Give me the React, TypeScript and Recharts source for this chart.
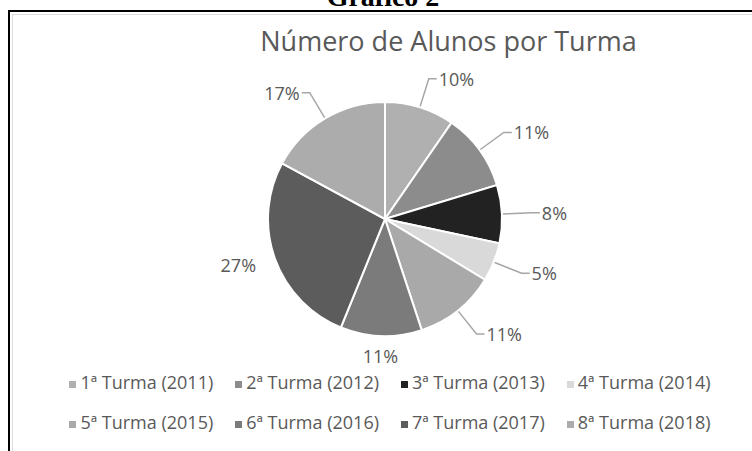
import React from 'react';
import { PieChart, Pie, Cell, Legend } from 'recharts';

// número de alunos estimado a partir das fatias
const turmas = [
  '1ª Turma (2011)',
  '2ª Turma (2012)',
  '3ª Turma (2013)',
  '4ª Turma (2014)',
  '5ª Turma (2015)',
  '6ª Turma (2016)',
  '7ª Turma (2017)',
  '8ª Turma (2018)',
];
const alunos = [18, 20, 15, 10, 21, 21, 50, 32];
const cores = ['#b0b0b0', '#8c8c8c', '#222222', '#d9d9d9', '#a9a9a9', '#7b7b7b', '#5c5c5c', '#acacac'];

const data = turmas.map((turma, i) => ({ turma, alunos: alunos[i], fill: cores[i] }));

const FONT = '"Open Sans", sans-serif';
const RAD = Math.PI / 180;

const renderLabel = (props: any) => {
  const { cx, cy, midAngle, outerRadius, percent } = props;
  const cos = Math.cos(-midAngle * RAD);
  const sin = Math.sin(-midAngle * RAD);
  const txt = `${Math.round(percent * 100)}%`;
  const withLine = percent < 0.2 && Math.abs(cos) > 0.2;

  if (!withLine) {
    const d = outerRadius + 20;
    const x = cx + d * cos;
    const y = cy + d * sin;
    const anchor = Math.abs(cos) < 0.2 ? 'middle' : cos > 0 ? 'start' : 'end';
    return (
      <text x={x} y={y} fill="#595959" fontSize={18} fontFamily={FONT} textAnchor={anchor} dominantBaseline="central">
        {txt}
      </text>
    );
  }

  const side = cos >= 0 ? 1 : -1;
  const sx = cx + (outerRadius + 1) * cos;
  const sy = cy + (outerRadius + 1) * sin;
  const mx = cx + (outerRadius + 30) * cos;
  const my = cy + (outerRadius + 30) * sin;
  const ex = mx + side * 8;
  return (
    <g>
      <polyline points={`${sx},${sy} ${mx},${my} ${ex},${my}`} fill="none" stroke="#a6a6a6" strokeWidth={1.5} />
      <text x={ex + side * 2} y={my} fill="#595959" fontSize={18} fontFamily={FONT} textAnchor={side > 0 ? 'start' : 'end'} dominantBaseline="central">
        {txt}
      </text>
    </g>
  );
};

const LegendContent = (props: any) => {
  const payload = props.payload || [];
  const rows = [payload.slice(0, 4), payload.slice(4, 8)];
  return (
    <div style={{ fontFamily: FONT, fontSize: 18, color: '#595959', paddingLeft: 28 }}>
      {rows.map((row: any[], r: number) => (
        <div key={r} style={{ display: 'flex', justifyContent: 'center', gap: 22, height: 20, lineHeight: '20px', marginBottom: 20 }}>
          {row.map((item: any, i: number) => (
            <div key={i} style={{ display: 'flex', alignItems: 'center', whiteSpace: 'nowrap' }}>
              <span style={{ display: 'inline-block', width: 7, height: 7, marginTop: 5, marginRight: 4, background: item.color || cores[r * 4 + i] }} />
              <span>{item.value}</span>
            </div>
          ))}
        </div>
      ))}
    </div>
  );
};

export default function App() {
  return (
    <div style={{ position: 'absolute', left: 0, top: 0, width: 752, height: 451, overflow: 'hidden', background: '#fff' }}>
      <div
        style={{
          position: 'absolute', left: 0, top: -17, width: 766, textAlign: 'center',
          fontFamily: '"Liberation Serif", serif', fontWeight: 'bold', fontSize: 28, lineHeight: '28px', color: '#000',
        }}
      >
        Gráfico 2
      </div>
      <div style={{ position: 'absolute', left: 8, top: 10, width: 800, height: 460, borderTop: '2px solid #000', borderLeft: '2px solid #000' }} />
      <div style={{ position: 'absolute', left: 12, top: 14, width: 800, height: 436, border: '1px solid #dcdcdc' }} />
      <div
        style={{
          position: 'absolute', left: 0, top: 27, width: 897, textAlign: 'center',
          fontFamily: FONT, fontSize: 27, lineHeight: '27px', color: '#595959',
        }}
      >
        Número de Alunos por Turma
      </div>
      <div style={{ position: 'absolute', left: 0, top: 0 }}>
        <PieChart width={752} height={451}>
          <Pie
            data={data}
            dataKey="alunos"
            nameKey="turma"
            cx={380}
            cy={214}
            outerRadius={117}
            startAngle={90}
            endAngle={-270}
            stroke="#ffffff"
            strokeWidth={2}
            label={renderLabel}
            labelLine={false}
            isAnimationActive={false}
          >
            {data.map((d, i) => (
              <Cell key={i} fill={cores[i]} />
            ))}
          </Pie>
          <Legend content={<LegendContent />} wrapperStyle={{ top: 372, left: 0, width: 752 }} />
        </PieChart>
      </div>
    </div>
  );
}
